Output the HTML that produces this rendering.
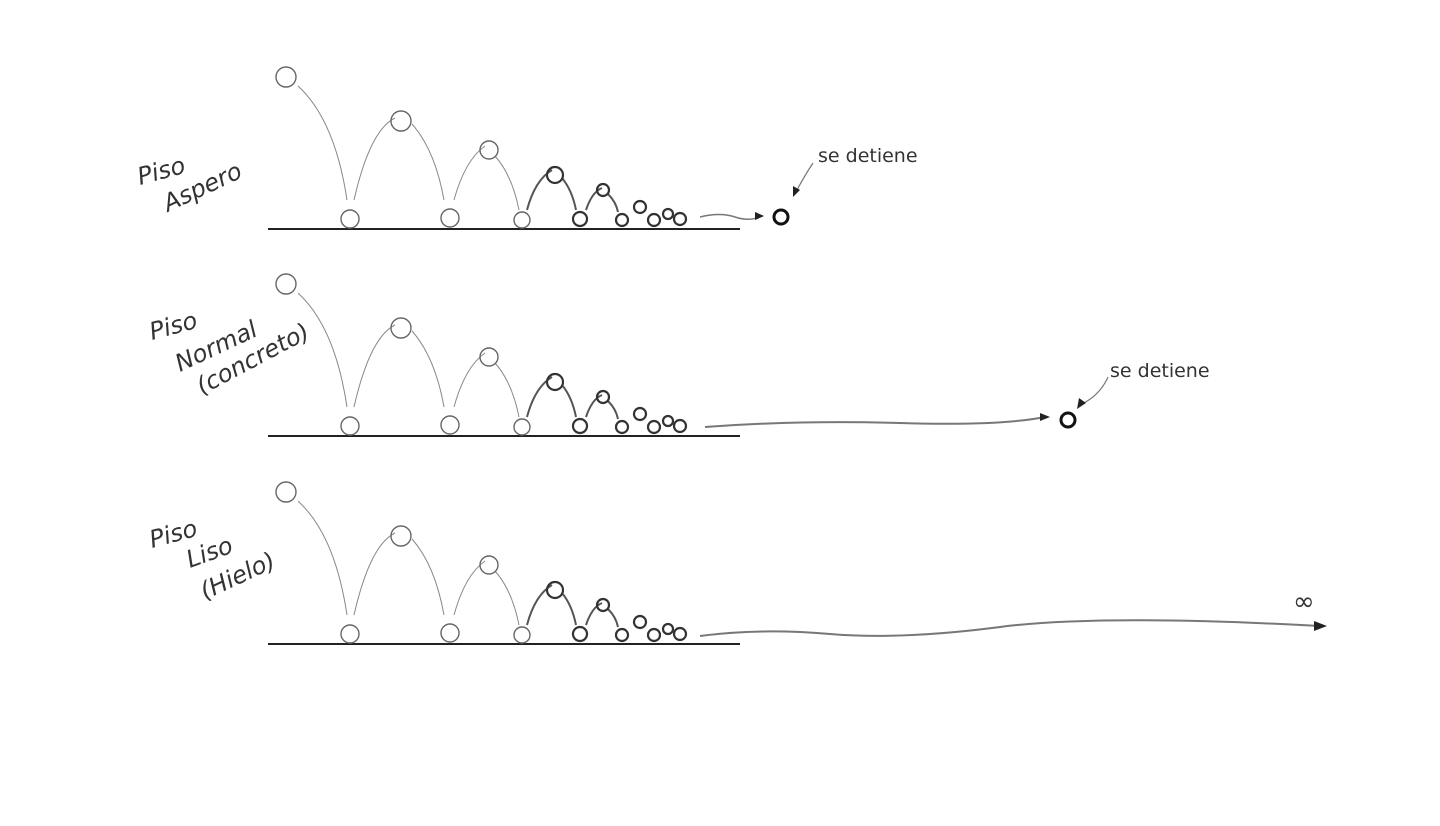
<!DOCTYPE html>
<html><head><meta charset="utf-8"><style>
html,body{margin:0;padding:0;background:#fff;width:1440px;height:826px;overflow:hidden}
svg{display:block}
text{font-family:"DejaVu Sans","Liberation Sans",sans-serif;fill:#333}
</style></head><body>
<svg width="1440" height="826" viewBox="0 0 1440 826">
<defs>
<g id="row">
  <line x1="268" y1="229" x2="740" y2="229" stroke="#222" stroke-width="2"/>
  <g fill="none" stroke="#888" stroke-width="1">
    <path d="M298 86 Q335 120 347 200"/>
    <path d="M354 200 Q370 130 395 118"/>
    <path d="M412 124 Q435 150 444 200"/>
    <path d="M454 200 Q465 160 485 146"/>
    <path d="M495 156 Q512 175 519 210"/>
  </g>
  <g fill="none" stroke="#555" stroke-width="2">
    <path d="M527 210 Q535 180 552 170"/>
    <path d="M562 178 Q572 190 576 210"/>
    <path d="M586 210 Q592 192 602 188"/>
    <path d="M608 194 Q616 202 618 212"/>
  </g>
  <g fill="none" stroke="#666" stroke-width="1.4">
    <circle cx="286" cy="77" r="10"/><circle cx="350" cy="219" r="9"/>
    <circle cx="401" cy="121" r="10"/><circle cx="450" cy="218" r="9"/>
    <circle cx="489" cy="150" r="9"/><circle cx="522" cy="220" r="8"/>
  </g>
  <g fill="none" stroke="#333" stroke-width="2.2">
    <circle cx="555" cy="175" r="8"/><circle cx="580" cy="219" r="7"/>
    <circle cx="603" cy="190" r="6"/><circle cx="622" cy="220" r="6"/>
    <circle cx="640" cy="207" r="6"/><circle cx="654" cy="220" r="6"/>
    <circle cx="668" cy="214" r="5"/><circle cx="680" cy="219" r="6"/>
  </g>
</g>
</defs>
<use href="#row"/>
<use href="#row" transform="translate(0,207)"/>
<use href="#row" transform="translate(0,415)"/>

<!-- row 1 end -->
<path d="M700 217 Q720 212 735 217 T762 216" fill="none" stroke="#777" stroke-width="1.5"/>
<polygon points="764,216 755,212 755,220" fill="#222"/>
<circle cx="781" cy="217" r="7" fill="none" stroke="#111" stroke-width="3"/>
<path d="M813 163 Q805 175 797 190" fill="none" stroke="#777" stroke-width="1.2"/>
<polygon points="793,197 793,186 800,190" fill="#222"/>
<text x="818" y="162" font-size="19">se detiene</text>

<!-- row 2 end -->
<path d="M705 427 Q800 420 900 423 T1045 417" fill="none" stroke="#777" stroke-width="2"/>
<polygon points="1050,417 1040,413 1040,421" fill="#222"/>
<circle cx="1068" cy="420" r="7" fill="none" stroke="#111" stroke-width="3"/>
<path d="M1108 377 Q1100 395 1082 404" fill="none" stroke="#777" stroke-width="1.2"/>
<polygon points="1077,409 1079,398 1086,403" fill="#222"/>
<text x="1110" y="377" font-size="19">se detiene</text>

<!-- row 3 end -->
<path d="M700 636 Q760 628 830 634 T1000 627 T1320 626" fill="none" stroke="#777" stroke-width="2"/>
<polygon points="1327,626 1314,621 1314,631" fill="#222"/>
<text x="1293" y="610" font-size="26">∞</text>

<!-- labels -->
<g font-size="24" font-style="italic">
<text transform="translate(140,185) rotate(-15)">Piso</text>
<text transform="translate(168,212) rotate(-25)">Aspero</text>
<text transform="translate(152,340) rotate(-15)">Piso</text>
<text transform="translate(180,372) rotate(-25)">Normal</text>
<text transform="translate(202,395) rotate(-28)">(concreto)</text>
<text transform="translate(152,548) rotate(-15)">Piso</text>
<text transform="translate(190,568) rotate(-20)">Liso</text>
<text transform="translate(205,600) rotate(-25)">(Hielo)</text>
</g>
</svg>
</body></html>
